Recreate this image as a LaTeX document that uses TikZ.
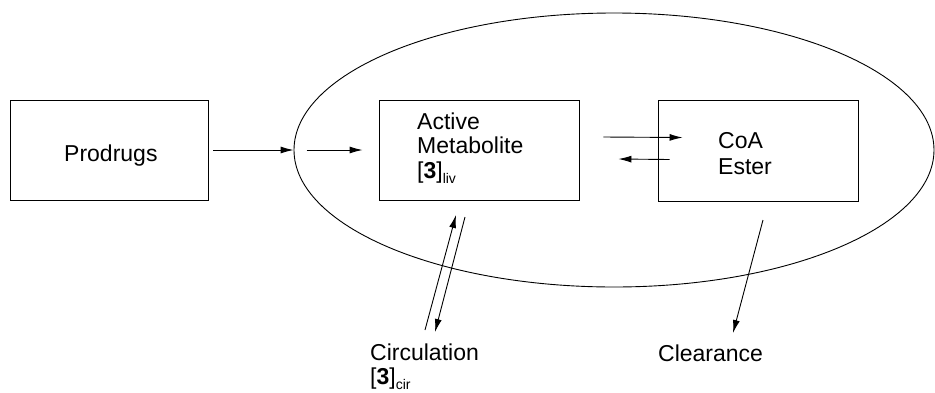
\documentclass[tikz,border=0pt]{standalone}
\usepackage{fontspec}
\setmainfont{Liberation Sans}
\usetikzlibrary{arrows.meta,shapes.geometric}
\begin{document}
\begin{tikzpicture}[x=1pt,y=-1pt,
  box/.style={draw,line width=0.9pt,minimum width=198pt,minimum height=100pt,inner sep=0pt},
  txt/.style={anchor=base west,inner sep=0pt,font=\fontsize{23}{23}\selectfont},
  arr/.style={line width=0.9pt,-{Latex[length=13pt,width=7pt]}}]
\useasboundingbox (0,0) rectangle (935,392);
% nodes
\node[box] (prod) at (109,150) {};
\node[draw,ellipse,line width=0.9pt,minimum width=640pt,minimum height=274pt,inner sep=0pt] (liver) at (614,150) {};
\node[box,minimum width=200pt] (act) at (479,150) {};
\node[box,minimum width=200pt,minimum height=101pt] (coa) at (758,150.5) {};
% texts
\node[txt] (tprod) at (64,161) {Prodrugs};
\node[txt] (ta1) at (417,129) {Active};
\node[txt] (ta2) at (417,153) {Metabolite};
\node[txt] (ta3) at (417,178) {[\textbf{3}]\raisebox{-5pt}{\fontsize{14}{14}\selectfont liv}};
\node[txt] (tc1) at (718,148) {CoA};
\node[txt] (tc2) at (718,174) {Ester};
\node[txt] (circ) at (370,360) {Circulation};
\node[txt] (circ2) at (370,384) {[\textbf{3}]\raisebox{-5pt}{\fontsize{14}{14}\selectfont cir}};
\node[txt] (clear) at (658,361) {Clearance};
% connectors
\draw[arr] ([xshift=5pt]prod.east) -- (liver.west);
\draw[arr] ([xshift=13pt]liver.west) -- ([xshift=-16pt]act.west);
\draw[arr] ([xshift=24pt,yshift=13pt]act.east) -- ([xshift=25pt,yshift=13pt]coa.west);
\draw[arr] ([xshift=12pt,yshift=-9pt]coa.west) -- ([xshift=39pt,yshift=-9pt]act.east);
\coordinate (cu1) at (425,330);
\coordinate (cu2) at (456,215);
\coordinate (cd1) at (465,217);
\coordinate (cd2) at (435,332);
\draw[arr] (cu1) -- (cu2);
\draw[arr] (cd1) -- (cd2);
\coordinate (cl1) at (763,220);
\coordinate (cl2) at (733,333);
\draw[arr] (cl1) -- (cl2);
\end{tikzpicture}
\end{document}
